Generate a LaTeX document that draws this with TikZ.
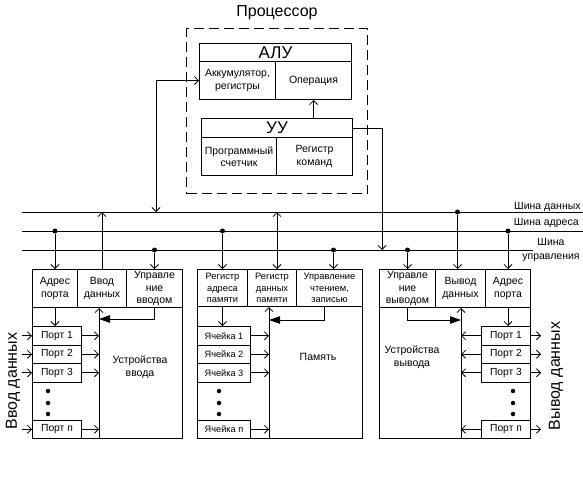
\documentclass[tikz,border=0pt]{standalone}
\usepackage{fontspec}
\setmainfont{Liberation Sans}
\usetikzlibrary{arrows.meta,calc}
\begin{document}
\begin{tikzpicture}[x=1pt,y=-1pt,
 line width=0.8pt,
 >={Straight Barb[length=4pt,width=8pt]},
 bx/.style={draw, line width=1pt, inner sep=0pt, align=center, anchor=north west},
 fa/.style={font=\fontsize{10.5}{12.5}\selectfont},
 fb/.style={font=\fontsize{9.3}{11.5}\selectfont},
 big/.style={font=\fontsize{17}{19}\selectfont},
 dot/.style={circle, fill, inner sep=0pt, minimum size=5pt},
 tri/.style={-{Triangle[length=11pt,width=7.5pt]}},
 lbl/.style={inner sep=0pt, align=center},
 pt/.style={bx, font=\fontsize{10.3}{12}\selectfont, minimum width=49pt, minimum height=18.5pt},
 ce/.style={bx, font=\fontsize{9.2}{11}\selectfont, minimum width=53pt, minimum height=18.5pt},
 vdot/.style={circle, fill, inner sep=0pt, minimum size=4.5pt},
]
\useasboundingbox (0,0) rectangle (583,493);

% ---------- processor ----------
\node[draw, dash pattern=on 10pt off 5pt, line width=1pt, minimum width=181pt, minimum height=165pt, anchor=north west, inner sep=0pt] (proc) at (186,28) {};
\node[lbl, font=\fontsize{16}{18}\selectfont] (proct) at (277,13) {Процессор};
\node[bx, big, minimum width=152pt, minimum height=18pt] (alu) at (199,43) {АЛУ};
\node[bx, fa, minimum width=76pt, minimum height=38pt] (acc) at (199,61) {Аккумулятор,\\регистры};
\node[bx, fa, minimum width=76pt, minimum height=38pt] (op) at (275,61) {Операция};
\node[bx, big, minimum width=151pt, minimum height=19pt] (uu) at (201,118) {УУ};
\node[bx, fa, minimum width=75pt, minimum height=38pt] (pc) at (201,137) {Программный\\счетчик};
\node[bx, fa, minimum width=76pt, minimum height=38pt] (ir) at (276,137) {Регистр\\команд};
\draw[->] (uu.north -| op.south) -- (op.south);

% ---------- buses ----------
\coordinate (DBL) at (22,212); \coordinate (DBR) at (583,212);
\coordinate (ABL) at (22,231); \coordinate (ABR) at (583,231);
\coordinate (CBL) at (22,250); \coordinate (CBR) at (533,250);
\draw (DBL) -- (DBR);
\draw (ABL) -- (ABR);
\draw (CBL) -- (CBR);
\node[lbl, fa, anchor=base east] (dbt) at (581,209) {Шина данных};
\node[lbl, fa, anchor=base east] (abt) at (579,225) {Шина адреса};
\node[lbl, font=\fontsize{10.5}{14}\selectfont] (cbt) at (551,250) {Шина\\управления};

\coordinate (dbA) at (156,212);
\draw[<->] (dbA) |- (acc.west);
\coordinate (cbA) at (382,250);
\draw[->] (uu.east) -| (cbA);

% ---------- input devices ----------
\node[bx, minimum width=150pt, minimum height=169pt] (inb) at (32,269) {};
\node[bx, fa, minimum width=45pt, minimum height=38pt] (iaddr) at (32,269) {Адрес\\порта};
\node[bx, fa, minimum width=49pt, minimum height=38pt] (idata) at (77,269) {Ввод\\данных};
\node[bx, fa, minimum width=56pt, minimum height=38pt] (ictrl) at (126,269) {Управле\\ние\\вводом};
\node[pt] (ip1) at (32,326) {Порт 1};
\node[pt] (ip2) at (32,344.5) {Порт 2};
\node[pt] (ip3) at (32,363) {Порт 3};
\node[pt] (ipn) at (32,419.5) {Порт п};
\node[vdot] (id1) at (48,391) {};
\node[vdot] (id2) at (48,403) {};
\node[vdot] (id3) at (48,414) {};
\node[lbl, fa] (itxt) at (140,367) {Устройства\\ввода};
\node[lbl, font=\fontsize{16}{18}\selectfont, rotate=90] (ilab) at (13,381) {Ввод данных};

\node[dot] (iaD) at (iaddr.north |- ABL) {};
\draw[->] (iaD) -- (iaddr.north);
\draw[->] (idata.north) -- (idata.north |- DBL);
\node[dot] (icD) at (ictrl.north |- CBL) {};
\draw[->] (icD) -- (ictrl.north);
\draw[->] (iaddr.south) -- (iaddr.south |- ip1.north);
\coordinate (iv) at (99,438);
\draw[->] (iv) -- (iv |- idata.south);
\foreach \p in {ip1,ip2,ip3,ipn}{
  \draw[->] (\p.east) -- (\p.east -| iv);
}
\coordinate (inL) at (22,0);
\foreach \p in {ip1,ip2,ip3,ipn}{
  \draw[->] (\p.west -| inL) -- (\p.west);
}
\coordinate (icC) at (99,319);
\draw[tri] (ictrl.south) |- (icC);

% ---------- memory ----------
\node[bx, minimum width=165pt, minimum height=169pt] (mb) at (197,269) {};
\node[bx, fb, minimum width=50pt, minimum height=37pt] (maddr) at (197,269) {Регистр\\адреса\\памяти};
\node[bx, fb, minimum width=49pt, minimum height=37pt] (mdata) at (247,269) {Регистр\\данных\\памяти};
\node[bx, fb, minimum width=66pt, minimum height=37pt] (mctrl) at (296,269) {Управление\\чтением,\\записью};
\node[ce] (c1) at (197,326) {Ячейка 1};
\node[ce] (c2) at (197,344.5) {Ячейка 2};
\node[ce] (c3) at (197,363) {Ячейка 3};
\node[ce] (cn) at (197,419.5) {Ячейка п};
\node[vdot] (md1) at (219,391) {};
\node[vdot] (md2) at (219,403) {};
\node[vdot] (md3) at (219,414) {};
\node[lbl, fa] (mtxt) at (318,357) {Память};

\node[dot] (maD) at (maddr.north |- ABL) {};
\draw[->] (maD) -- (maddr.north);
\coordinate (mdx) at ($(mdata.north)+(5,0)$);
\draw[<->] (mdx) -- (mdx |- DBL);
\coordinate (mcx) at ($(mctrl.north)+(4,0)$);
\node[dot] (mcD) at (mcx |- CBL) {};
\draw[->] (mcD) -- (mcx);
\draw[->] (maddr.south) -- (maddr.south |- c1.north);
\coordinate (mv) at (269,438);
\draw[->] (mv) -- (mv |- mdata.south);
\foreach \p in {c1,c2,c3,cn}{
  \draw[->] (\p.east) -- (\p.east -| mv);
}
\coordinate (mcs) at ($(mctrl.south)+(-5,0)$);
\coordinate (mcC) at (269,320);
\draw[tri] (mcs) |- (mcC);

% ---------- output devices ----------
\node[bx, minimum width=151pt, minimum height=169pt] (ob) at (379,269) {};
\node[bx, fa, minimum width=56pt, minimum height=38pt] (octrl) at (379,269) {Управле\\ние\\выводом};
\node[bx, fa, minimum width=50pt, minimum height=38pt] (odata) at (435,269) {Вывод\\данных};
\node[bx, fa, minimum width=45pt, minimum height=38pt] (oaddr) at (485,269) {Адрес\\порта};
\node[pt] (op1) at (481,326) {Порт 1};
\node[pt] (op2) at (481,344.5) {Порт 2};
\node[pt] (op3) at (481,363) {Порт 3};
\node[pt] (opn) at (481,419.5) {Порт п};
\node[vdot] (od1) at (513,391) {};
\node[vdot] (od2) at (513,403) {};
\node[vdot] (od3) at (513,414) {};
\node[lbl, fa] (otxt) at (412,357) {Устройства\\вывода};
\node[lbl, font=\fontsize{16}{18}\selectfont, rotate=90] (olab) at (556,376) {Вывод данных};

\node[dot] (ocD) at (octrl.north |- CBL) {};
\draw[->] (ocD) -- (octrl.north);
\coordinate (odx) at ($(odata.north)+(-3,0)$);
\node[dot] (odD) at (odx |- DBL) {};
\draw[->] (odD) -- (odx);
\node[dot] (oaD) at (oaddr.north |- ABL) {};
\draw[->] (oaD) -- (oaddr.north);
\draw[->] (oaddr.south) -- (oaddr.south |- op1.north);
\coordinate (ov) at (461,438);
\draw[->] (ov) -- (ov |- odata.south);
\foreach \p in {op1,op2,op3,opn}{
  \draw[->] (\p.west) -- (\p.west -| ov);
}
\coordinate (outR) at (541,0);
\foreach \p in {op1,op2,op3,opn}{
  \draw[->] (\p.east) -- (\p.east -| outR);
}
\coordinate (ocC) at (461,320);
\draw[tri] (octrl.south) |- (ocC);
\end{tikzpicture}
\end{document}
